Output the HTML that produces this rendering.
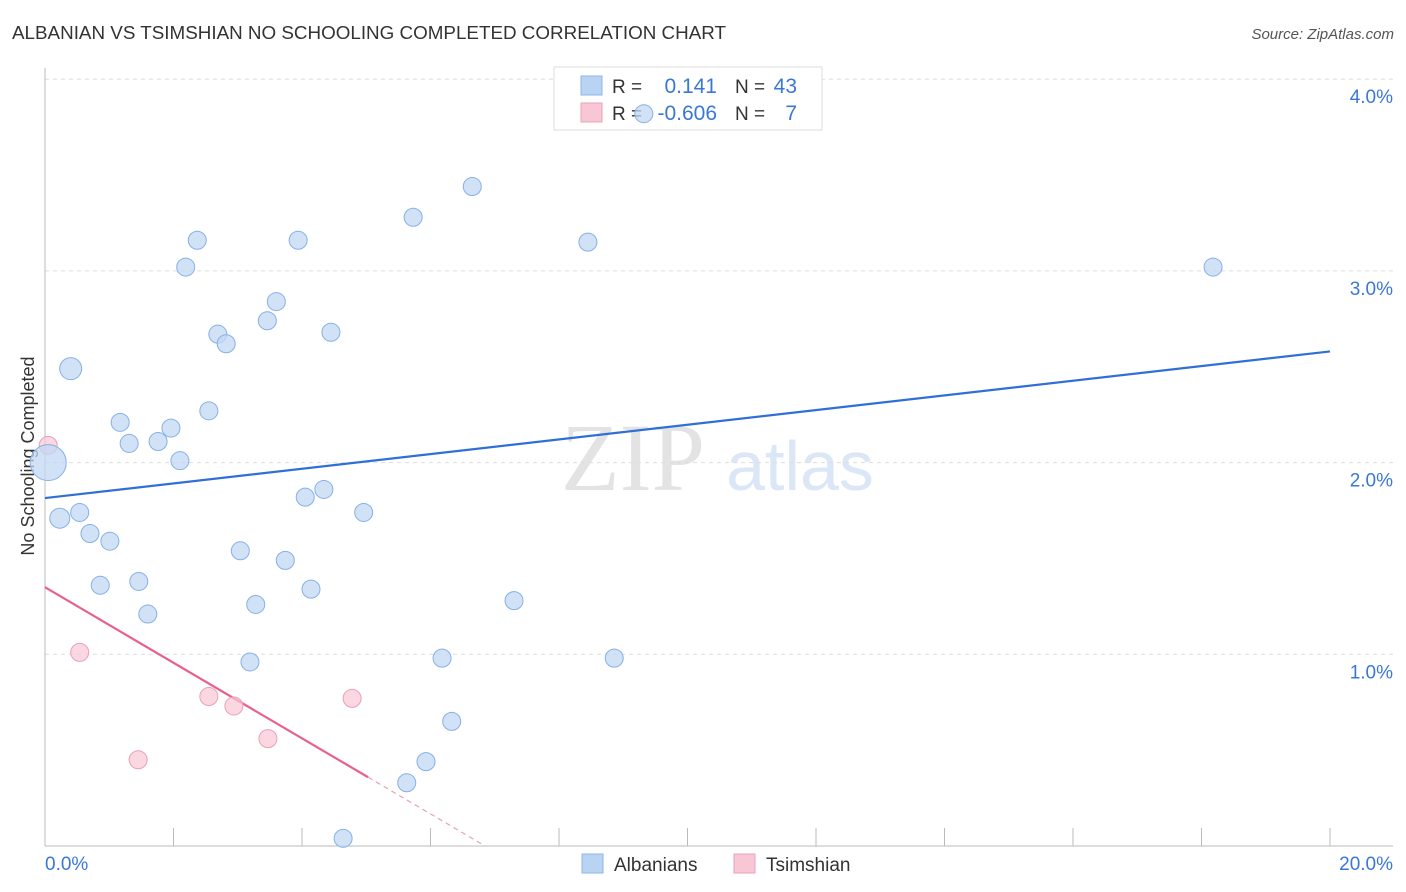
<!DOCTYPE html>
<html><head><meta charset="utf-8">
<style>
body{margin:0;background:#fff;font-family:"Liberation Sans",sans-serif;}
svg{display:block}
</style></head>
<body>
<svg id="chart" width="1406" height="892" xmlns="http://www.w3.org/2000/svg">
<text x="12" y="39" font-size="18" fill="#333" textLength="714" lengthAdjust="spacingAndGlyphs">ALBANIAN VS TSIMSHIAN NO SCHOOLING COMPLETED CORRELATION CHART</text>
<text x="1394" y="39" font-size="15" fill="#555" font-style="italic" text-anchor="end">Source: ZipAtlas.com</text>
<g>
<text x="633" y="490" font-size="96" fill="#e3e3e3" font-family="Liberation Serif,serif" text-anchor="middle">ZIP</text>
<text x="800" y="490" font-size="70" fill="#dbe7f6" text-anchor="middle">atlas</text>
</g>
<g id="grid"></g>
<g id="axes"></g>
<g id="lines"></g>
<text x="34" y="456" font-size="18" fill="#333" text-anchor="middle" transform="rotate(-90 34 456)">No Schooling Completed</text>
<g>
<rect x="554" y="67" width="268" height="63" fill="#fff" stroke="#ddd"/>
<rect x="581" y="76" width="21" height="19" fill="#b9d3f3" stroke="#8fb6e8"/>
<rect x="581" y="103" width="21" height="19" fill="#f9c6d5" stroke="#eaa0b8"/>
<text x="612" y="93" font-size="19" fill="#333">R =</text>
<text x="717" y="93" font-size="21" fill="#3a78d6" text-anchor="end">0.141</text>
<text x="735" y="93" font-size="19" fill="#333">N =</text>
<text x="797" y="93" font-size="21" fill="#3a78d6" text-anchor="end">43</text>
<text x="612" y="120" font-size="19" fill="#333">R =</text>
<text x="717" y="120" font-size="21" fill="#3a78d6" text-anchor="end">-0.606</text>
<text x="735" y="120" font-size="19" fill="#333">N =</text>
<text x="797" y="120" font-size="21" fill="#3a78d6" text-anchor="end">7</text>
</g>
<g id="points"></g>
<g>
<rect x="582" y="854" width="21" height="19" fill="#b9d3f3" stroke="#8fb6e8"/>
<text x="614" y="871" font-size="19" fill="#333">Albanians</text>
<rect x="734" y="854" width="21" height="19" fill="#f9c6d5" stroke="#eaa0b8"/>
<text x="766" y="871" font-size="19" fill="#333">Tsimshian</text>
</g>
</svg>
<script>
const blueX=[0.40,0.05,0.23,0.54,0.70,1.01,0.86,1.17,1.31,1.46,1.60,1.76,1.96,2.10,2.19,2.37,2.55,2.69,2.82,3.04,3.19,3.28,3.46,3.60,3.74,3.94,4.05,4.14,4.34,4.45,4.64,4.96,5.63,5.73,5.93,6.18,6.33,6.65,7.30,8.45,8.86,18.18,9.32];
const blueY=[2.49,2.00,1.71,1.74,1.63,1.59,1.36,2.21,2.10,1.38,1.21,2.11,2.18,2.01,3.02,3.16,2.27,2.67,2.62,1.54,0.96,1.26,2.74,2.84,1.49,3.16,1.82,1.34,1.86,2.68,0.04,1.74,0.33,3.28,0.44,0.98,0.65,3.44,1.28,3.15,0.98,3.02,3.82];
const blueR=[11,18,10,9,9,9,9,9,9,9,9,9,9,9,9,9,9,9,9,9,9,9,9,9,9,9,9,9,9,9,9,9,9,9,9,9,9,9,9,9,9,9,9];
const pinkX=[0.05,0.54,1.45,2.55,2.94,3.47,4.78];
const pinkY=[2.09,1.01,0.45,0.78,0.73,0.56,0.77];
const pinkR=[9,9,9,9,9,9,9];
const blueTrend=[1.815,2.58];
const pinkTrend=[1.35,0];
const pinkSolidEnd=5.03;
const pinkZero=6.85;
const xTicks=["0.0%","20.0%"];
const yTickVals=[1,2,3,4];
const yTickLabels=["1.0%","2.0%","3.0%","4.0%"];
const NS="http://www.w3.org/2000/svg";
const sx=v=>45+v*1285/20;
const sy=v=>846-v*191.7;
function mk(tag,attrs,parent){const e=document.createElementNS(NS,tag);for(const k in attrs)e.setAttribute(k,attrs[k]);document.getElementById(parent).appendChild(e);return e;}
yTickVals.forEach((v,i)=>{
 const g=mk('line',{x1:45,x2:1393,y1:sy(v),y2:sy(v),stroke:'#ddd','stroke-dasharray':'4,4'},'grid');
 
 
 const t=mk('text',{x:1393,y:sy(v)+24,'font-size':19,fill:'#3a78d6','text-anchor':'end'},'axes');
 t.textContent=yTickLabels[i];
 
 
});
const ax=mk('line',{x1:45,x2:45,y1:68,y2:846,stroke:'#bbb'},'axes');


const bx=mk('line',{x1:45,x2:1393,y1:846,y2:846,stroke:'#bbb'},'axes');


for(let i=0;i<=10;i++){
 const tk=mk('line',{x1:sx(i*2),x2:sx(i*2),y1:828,y2:846,stroke:'#bbb'},'axes');
 
 
}
[[0,'start',45],[20,'end',1393]].forEach((d,i)=>{
 const t=mk('text',{x:d[2],y:870,'font-size':19,fill:'#3a78d6','text-anchor':d[1]},'axes');
 t.textContent=xTicks[i];
 
 
});
const bl=mk('line',{x1:sx(0),y1:sy(blueTrend[0]),x2:sx(20),y2:sy(blueTrend[1]),stroke:'#2f6fd6','stroke-width':2.2},'lines');


const pk=x=>pinkTrend[0]+(pinkTrend[1]-pinkTrend[0])*x/pinkZero;
const pl=mk('line',{x1:sx(0),y1:sy(pk(0)),x2:sx(pinkSolidEnd),y2:sy(pk(pinkSolidEnd)),stroke:'#e8618c','stroke-width':2.2},'lines');


const pd=mk('line',{x1:sx(pinkSolidEnd),y1:sy(pk(pinkSolidEnd)),x2:sx(pinkZero),y2:sy(pk(pinkZero)),stroke:'#e8a0b8','stroke-width':1.2,'stroke-dasharray':'5,4'},'lines');


pinkX.forEach((x,i)=>{
 const c=mk('circle',{cx:sx(x),cy:sy(pinkY[i]),r:pinkR[i],fill:'#f9c6d5','fill-opacity':0.7,stroke:'#eaa0b8','stroke-width':1},'points');
 
 
});
blueX.forEach((x,i)=>{
 const c=mk('circle',{cx:sx(x),cy:sy(blueY[i]),r:blueR[i],fill:'#c2d8f4','fill-opacity':0.75,stroke:'#86b0e6','stroke-width':1},'points');
 
 
});
</script>
</body></html>
